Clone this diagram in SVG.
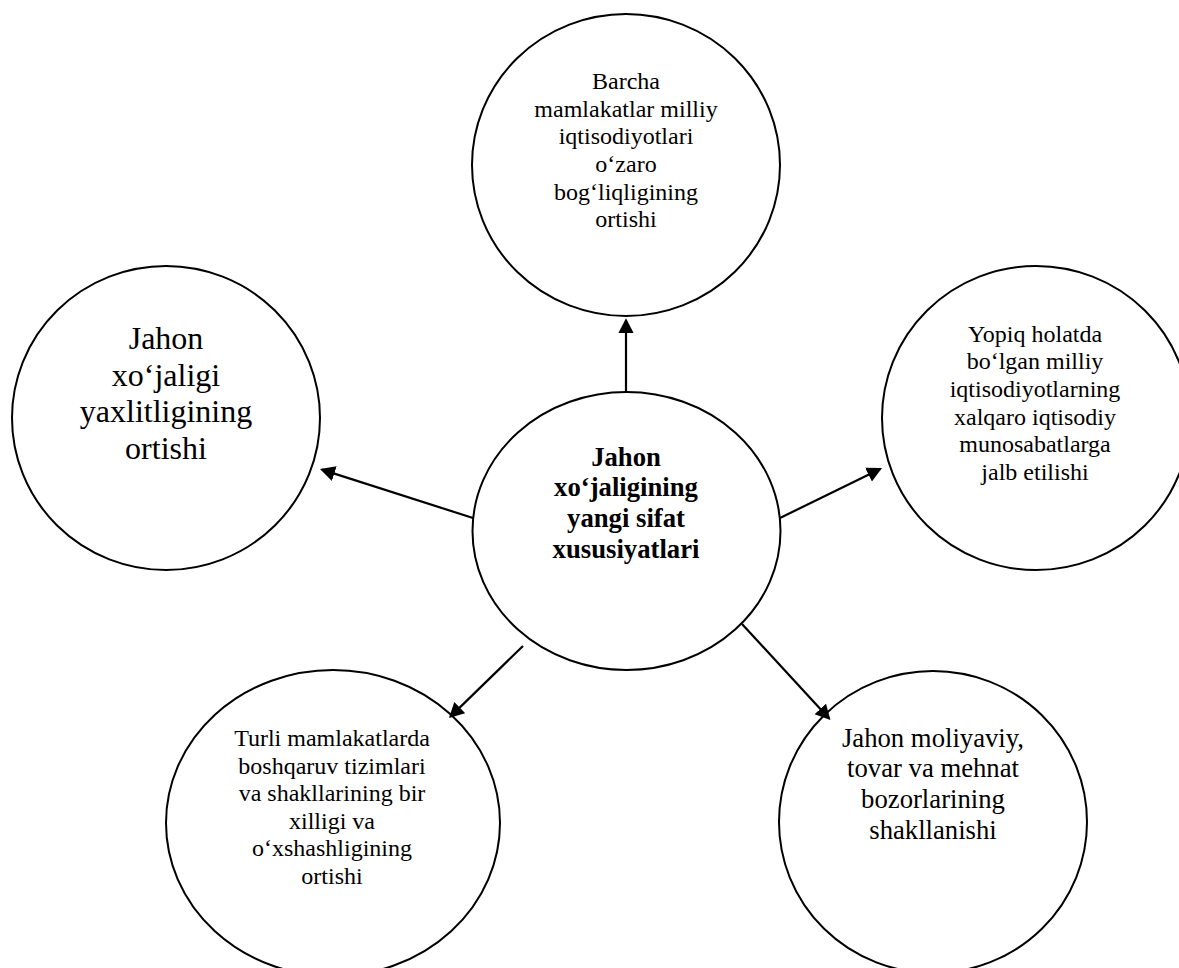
<svg xmlns="http://www.w3.org/2000/svg" width="1179" height="968" viewBox="0 0 1179 968">
<style>
.node ellipse{fill:#fff;stroke:#000;stroke-width:2}
.t{font-family:"Liberation Serif","Times New Roman",serif;fill:#000;text-anchor:middle}
.s24{font-size:24px}
.s27{font-size:26.7px}
.s32{font-size:32px}
.b{font-weight:bold}
.conn line{stroke:#000;stroke-width:2.2;marker-end:url(#ah)}
</style>
<defs>
<marker id="ah" markerUnits="userSpaceOnUse" markerWidth="16" markerHeight="16" refX="13" refY="7.75" orient="auto">
<path d="M0,0 L15,7.75 L0,15.5 z" fill="#000"/>
</marker>
</defs>
<rect width="1179" height="968" fill="#fff"/>
<g id="top" class="node">
<ellipse cx="626" cy="165" rx="154" ry="151"/>
<text class="t s24"><tspan x="626" y="89">Barcha</tspan><tspan x="626" y="116.7">mamlakatlar milliy</tspan><tspan x="626" y="144.3">iqtisodiyotlari</tspan><tspan x="626" y="171.9">o‘zaro</tspan><tspan x="626" y="199.5">bog‘liqligining</tspan><tspan x="626" y="227">ortishi</tspan></text>
</g>
<g id="left" class="node">
<ellipse cx="166" cy="418" rx="154" ry="152"/>
<text class="t s32"><tspan x="166" y="349">Jahon</tspan><tspan x="166" y="385.5">xo‘jaligi</tspan><tspan x="166" y="422">yaxlitligining</tspan><tspan x="166" y="458.5">ortishi</tspan></text>
</g>
<g id="right" class="node">
<ellipse cx="1036" cy="418" rx="154" ry="152"/>
<text class="t s24"><tspan x="1035" y="341.7">Yopiq holatda</tspan><tspan x="1035" y="369.3">bo‘lgan milliy</tspan><tspan x="1035" y="397">iqtisodiyotlarning</tspan><tspan x="1035" y="424.6">xalqaro iqtisodiy</tspan><tspan x="1035" y="452.2">munosabatlarga</tspan><tspan x="1035" y="479.8">jalb etilishi</tspan></text>
</g>
<g id="center" class="node">
<ellipse cx="626.5" cy="531" rx="154" ry="139"/>
<text class="t s27 b"><tspan x="626" y="465.7">Jahon</tspan><tspan x="626" y="496.4">xo‘jaligining</tspan><tspan x="626" y="527">yangi sifat</tspan><tspan x="626" y="557.7">xususiyatlari</tspan></text>
</g>
<g id="bottom-left" class="node">
<ellipse cx="333" cy="823" rx="167" ry="153"/>
<text class="t s24"><tspan x="332" y="746">Turli mamlakatlarda</tspan><tspan x="332" y="773.6">boshqaruv tizimlari</tspan><tspan x="332" y="801.2">va shakllarining bir</tspan><tspan x="332" y="828.8">xilligi va</tspan><tspan x="332" y="856.4">o‘xshashligining</tspan><tspan x="332" y="884">ortishi</tspan></text>
</g>
<g id="bottom-right" class="node">
<ellipse cx="933" cy="822" rx="154" ry="151"/>
<text class="t s27"><tspan x="933" y="746.7">Jahon moliyaviy,</tspan><tspan x="933" y="777.4">tovar va mehnat</tspan><tspan x="933" y="808">bozorlarining</tspan><tspan x="933" y="838.7">shakllanishi</tspan></text>
</g>
<g id="connectors" class="conn">
<line x1="626" y1="392" x2="626" y2="320.3"/>
<line x1="473" y1="518" x2="321.9" y2="469.6"/>
<line x1="780" y1="518" x2="880.2" y2="468.9"/>
<line x1="523" y1="646" x2="450.4" y2="716.6"/>
<line x1="742" y1="624" x2="829.1" y2="718.5"/>
</g>
</svg>
